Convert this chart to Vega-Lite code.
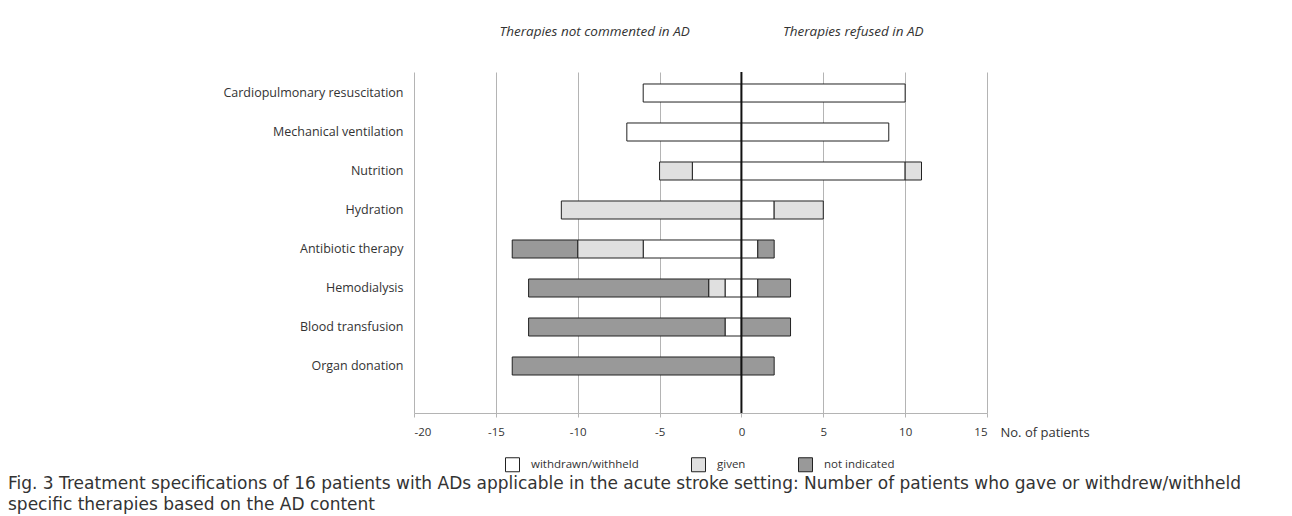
{
  "$schema": "https://vega.github.io/schema/vega-lite/v6.json",
  "width": 573,
  "height": 341,
  "autosize": "none",
  "padding": {"left": 414, "top": 72, "right": 305, "bottom": 103},
  "background": "white",
  "config": {
    "font": "Open Sans",
    "view": {"stroke": null}
  },
  "title": {
    "text": ["Fig. 3 Treatment specifications of 16 patients with ADs applicable in the acute stroke setting: Number of patients who gave or withdrew/withheld", "specific therapies based on the AD content"],
    "orient": "bottom",
    "anchor": "start",
    "frame": "group",
    "dx": -406,
    "offset": 2,
    "font": "DejaVu Sans",
    "fontSize": 17,
    "fontWeight": "normal",
    "color": "#333333",
    "lineHeight": 21
  },
  "data": {
    "values": [
      {"therapy": "Cardiopulmonary resuscitation", "status": "withdrawn/withheld", "n": -6},
      {"therapy": "Cardiopulmonary resuscitation", "status": "withdrawn/withheld", "n": 10},
      {"therapy": "Mechanical ventilation", "status": "withdrawn/withheld", "n": -7},
      {"therapy": "Mechanical ventilation", "status": "withdrawn/withheld", "n": 9},
      {"therapy": "Nutrition", "status": "withdrawn/withheld", "n": -3},
      {"therapy": "Nutrition", "status": "given", "n": -2},
      {"therapy": "Nutrition", "status": "withdrawn/withheld", "n": 10},
      {"therapy": "Nutrition", "status": "given", "n": 1},
      {"therapy": "Hydration", "status": "given", "n": -11},
      {"therapy": "Hydration", "status": "withdrawn/withheld", "n": 2},
      {"therapy": "Hydration", "status": "given", "n": 3},
      {"therapy": "Antibiotic therapy", "status": "withdrawn/withheld", "n": -6},
      {"therapy": "Antibiotic therapy", "status": "given", "n": -4},
      {"therapy": "Antibiotic therapy", "status": "not indicated", "n": -4},
      {"therapy": "Antibiotic therapy", "status": "withdrawn/withheld", "n": 1},
      {"therapy": "Antibiotic therapy", "status": "not indicated", "n": 1},
      {"therapy": "Hemodialysis", "status": "withdrawn/withheld", "n": -1},
      {"therapy": "Hemodialysis", "status": "given", "n": -1},
      {"therapy": "Hemodialysis", "status": "not indicated", "n": -11},
      {"therapy": "Hemodialysis", "status": "withdrawn/withheld", "n": 1},
      {"therapy": "Hemodialysis", "status": "not indicated", "n": 2},
      {"therapy": "Blood transfusion", "status": "withdrawn/withheld", "n": -1},
      {"therapy": "Blood transfusion", "status": "not indicated", "n": -12},
      {"therapy": "Blood transfusion", "status": "not indicated", "n": 3},
      {"therapy": "Organ donation", "status": "not indicated", "n": -14},
      {"therapy": "Organ donation", "status": "not indicated", "n": 2}
    ]
  },
  "layer": [
    {
      "transform": [
        {"calculate": "indexof(['withdrawn/withheld', 'given', 'not indicated'], datum.status)", "as": "stackRank"}
      ],
      "mark": {"type": "bar", "stroke": "#222222", "strokeWidth": 1},
      "encoding": {
        "y": {
          "field": "therapy",
          "type": "nominal",
          "sort": ["Cardiopulmonary resuscitation", "Mechanical ventilation", "Nutrition", "Hydration", "Antibiotic therapy", "Hemodialysis", "Blood transfusion", "Organ donation"],
          "scale": {"paddingInner": 0.538, "paddingOuter": 0.641, "align": 0.24},
          "axis": {"title": null, "domain": false, "ticks": false, "grid": false, "labelPadding": 11, "labelFontSize": 12.5, "labelLimit": 400, "labelColor": "#333333"}
        },
        "x": {
          "field": "n",
          "type": "quantitative",
          "stack": "zero",
          "scale": {"domain": [-20, 15], "nice": false, "zero": false},
          "axis": {
            "values": [-20, -15, -10, -5, 0, 5, 10, 15],
            "labelExpr": "'' + datum.value",
            "grid": true,
            "gridColor": "#b4b4b4",
            "gridWidth": 1,
            "domainColor": "#b4b4b4",
            "tickColor": "#b4b4b4",
            "tickSize": 4,
            "labelPadding": 9,
            "labelFontSize": 11.5,
            "labelColor": "#333333",
            "title": "No. of patients",
            "titleX": 586,
            "titleY": 19,
            "titleAlign": "left",
            "titleBaseline": "middle",
            "titleFontSize": 13,
            "titleFontWeight": "normal",
            "titleColor": "#333333"
          }
        },
        "order": {"field": "stackRank", "type": "quantitative", "sort": "ascending"},
        "color": {
          "field": "status",
          "type": "nominal",
          "sort": ["withdrawn/withheld", "given", "not indicated"],
          "scale": {"domain": ["withdrawn/withheld", "given", "not indicated"], "range": ["#ffffff", "#e0e0e0", "#999999"]},
          "legend": {
            "title": null,
            "orient": "none",
            "direction": "horizontal",
            "legendX": 91,
            "legendY": 385,
            "symbolType": "square",
            "symbolSize": 196,
            "symbolStrokeColor": "#222222",
            "symbolStrokeWidth": 1,
            "symbolOpacity": 1,
            "labelFontSize": 11.5,
            "labelOffset": 11,
            "labelColor": "#333333",
            "columnPadding": 50
          }
        }
      }
    },
    {
      "data": {"values": [{"x": 0}]},
      "mark": {"type": "rule", "color": "#111111", "strokeWidth": 2},
      "encoding": {
        "x": {
          "field": "x",
          "type": "quantitative",
          "axis": {
            "orient": "top",
            "values": [-9, 6.8],
            "labelExpr": "datum.value < 0 ? 'Therapies not commented in AD' : 'Therapies refused in AD'",
            "ticks": false,
            "domain": false,
            "grid": false,
            "title": null,
            "labelPadding": 34,
            "labelLimit": 400,
            "labelOverlap": false,
            "labelFontSize": 13.5,
            "labelFontStyle": "italic",
            "labelColor": "#333333"
          }
        }
      }
    }
  ],
  "resolve": {"axis": {"x": "independent"}}
}
